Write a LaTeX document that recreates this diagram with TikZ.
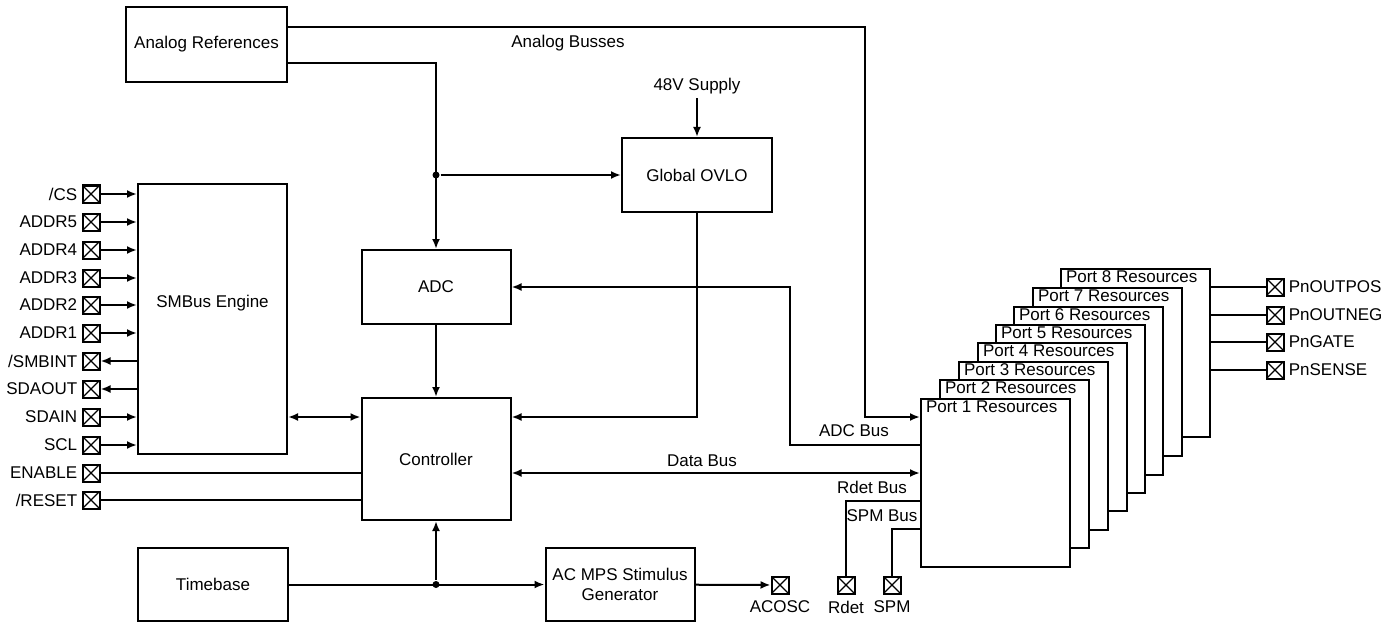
\documentclass[tikz,border=0pt]{standalone}
\usepackage{fontspec}
\setmainfont{Liberation Sans}
\usepackage{tikz}
\usetikzlibrary{arrows.meta, positioning}
\tikzstyle{block}   = [rectangle, draw, fill=white, text centered, align=center,
                       minimum width=149pt, minimum height=74pt]
\tikzstyle{portbox} = [rectangle, draw, fill=white, anchor=north west,
                       minimum width=149pt, minimum height=168pt]
\tikzstyle{padbox}  = [rectangle, draw, fill=white, minimum size=17pt, inner sep=0pt,
                       path picture={\draw[line width=1.3pt]
                         (path picture bounding box.south west) -- (path picture bounding box.north east)
                         (path picture bounding box.north west) -- (path picture bounding box.south east);}]
\tikzstyle{arrow}   = [-{Latex[length=10pt,width=8pt]}]
\tikzstyle{darrow}  = [{Latex[length=10pt,width=8pt]}-{Latex[length=10pt,width=8pt]}]
\tikzstyle{dot}     = [circle, fill, inner sep=0pt, minimum size=7pt]

\begin{document}
\begin{tikzpicture}[x=1pt, y=-1pt, line width=2pt, font=\fontsize{17}{20}\selectfont]
  \useasboundingbox (0,0) rectangle (1398,623);

  \node[block, minimum width=161pt, minimum height=75pt] (aref) at (206.5,44.5) {Analog References};
  \node[block, minimum width=150pt] (ovlo) at (697,175) {Global OVLO};
  \node[block] (adc) at (436,287) {ADC};
  \node[block, minimum height=122pt] (ctrl) at (436,459) {Controller};
  \node[block, minimum height=270pt, text depth=35pt] (smb) at (212.5,319) {SMBus Engine};
  \node[block, minimum width=150pt, minimum height=73pt] (tb) at (213,584.5) {Timebase};
  \node[block, minimum height=73pt] (acmps) at (620,584.5) {AC MPS Stimulus\\Generator};

  % port resource stack, back to front
  \foreach \i/\xx/\yy in {8/1060/268, 7/1032/287, 6/1013/306, 5/995/324,
                          4/977/342, 3/958/361, 2/939/379, 1/920/398}
    \node[portbox, label={[anchor=north west, inner sep=2pt, xshift=3pt]north west:Port \i{} Resources}]
      (p\i) at (\xx,\yy) {};

  % pins
  \foreach \n/\t/\y in {cs/{/CS}/194, a5/ADDR5/222, a4/ADDR4/250, a3/ADDR3/278, a2/ADDR2/305,
                        a1/ADDR1/333, sdain/SDAIN/417, scl/SCL/445}
  {
    \node[padbox, label=left:\t] (\n) at (91,\y) {};
    \draw[arrow] (\n.east) -- (smb.west |- \n);
  }
  \foreach \n/\t/\y in {smbint/{/SMBINT}/361, sdaout/SDAOUT/389}
  {
    \node[padbox, label=left:\t] (\n) at (91,\y) {};
    \draw[arrow] (smb.west |- \n) -- (\n.east);
  }
  \foreach \n/\t/\y in {enable/ENABLE/473, reset/{/RESET}/500}
  {
    \node[padbox, label=left:\t] (\n) at (91,\y) {};
    \draw (\n.east) -- (ctrl.west |- \n);
  }
  \foreach \n/\t/\y in {outpos/PnOUTPOS/287, outneg/PnOUTNEG/315, gate/PnGATE/342, sense/PnSENSE/370}
  {
    \node[padbox, label=right:\t] (\n) at (1275,\y) {};
    \draw (p8.east |- \n) -- (\n.west);
  }
  \node[padbox, label={[label distance=2pt]below:ACOSC}] (acosc) at (780,585) {};
  \node[padbox, label={[label distance=2pt]below:Rdet}] (rdet) at (846,585) {};
  \node[padbox, label={[label distance=2pt]below:SPM}] (spm) at (892,585) {};

  % bus labels
  \node (abl) at (568,43) {Analog Busses};
  \node (v48) at (697,86) {48V Supply};
  \node (adcbl) at (854,431) {ADC Bus};
  \node (dbl) at (702,461) {Data Bus};
  \node (rbl) at (872,487) {Rdet Bus};
  \node (sbl) at (882,516) {SPM Bus};

  \coordinate (ab) at (865,27);
  \coordinate (yref) at (0,63);
  \coordinate (yab) at (0,417);
  \coordinate (adcb) at (790,445);
  \coordinate (ydb) at (0,473);
  \coordinate (yrd) at (0,501);
  \coordinate (ysp) at (0,529);

  \node[dot] (j1) at (adc.north |- ovlo.west) {};
  \node[dot] (j2) at (ctrl.south |- tb.east) {};

  \draw[arrow] (aref.east |- ab) -- (ab) |- (p1.west |- yab);
  \draw[arrow] (aref.east |- yref) -| (adc.north);
  \draw[arrow] (j1) -- (ovlo.west);
  \draw[arrow] (v48) -- (ovlo);
  \draw[arrow] (adc) -- (ctrl);
  \draw[arrow] (ovlo.south) |- (ctrl.east |- yab);
  \draw[arrow] (p1.west |- adcb) -- (adcb) |- (adc.east);
  \draw[darrow] (ctrl.east |- ydb) -- (p1.west |- ydb);
  \draw (p1.west |- yrd) -| (rdet.north);
  \draw (p1.west |- ysp) -| (spm.north);
  \draw[darrow] (smb.east |- yab) -- (ctrl.west |- yab);
  \draw[arrow] (tb) -- (acmps);
  \draw[arrow] (j2) -- (ctrl.south);
  \draw[arrow] (acmps) -- (acosc);
\end{tikzpicture}
\end{document}
